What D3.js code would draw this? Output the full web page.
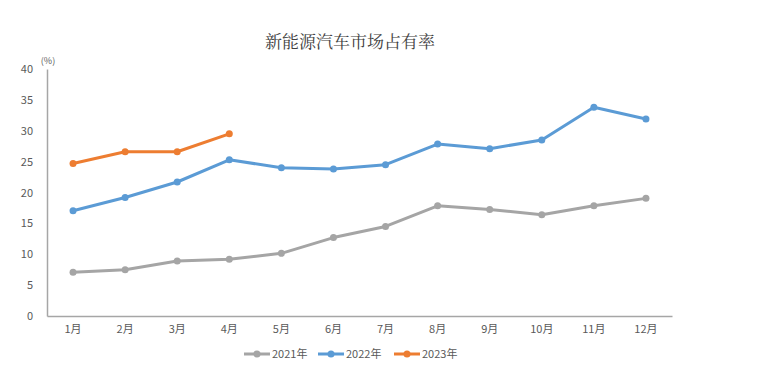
<!DOCTYPE html>
<html><head><meta charset="utf-8">
<script src="https://cdn.jsdelivr.net/npm/d3@7"></script>
<style>body{margin:0;background:#fff;}svg{display:block;}</style>
</head><body>
<script>
const months = ["1月","2月","3月","4月","5月","6月","7月","8月","9月","10月","11月","12月"];
const s2021 = [7.1, 7.5, 8.9, 9.2, 10.15, 12.7, 14.5, 17.85, 17.25, 16.4, 17.85, 19.05];
const s2022 = [17.05, 19.2, 21.7, 25.3, 24.0, 23.8, 24.5, 27.85, 27.1, 28.5, 33.8, 31.9];
const s2023 = [24.7, 26.6, 26.6, 29.5];
const seriesNames = ["2021年","2022年","2023年"];
const colors = ["#A5A5A5","#5B9BD5","#ED7D31"];
const yTicks = [0,5,10,15,20,25,30,35,40];
const title = "新能源汽车市场占有率";
const unitLabel = "(%)";

const W = 760, H = 372;
const svg = d3.select("body").append("svg").attr("width", W).attr("height", H);
const mLeft = 47, mRight = 672, mTop = 69, mBottom = 316;
const x = d3.scaleBand().domain(months).range([mLeft, mRight]);
const y = d3.scaleLinear().domain([0, 40]).range([mBottom, mTop]);
const font = "'Noto Sans CJK SC', 'Liberation Sans', sans-serif";

svg.append("text").attr("x", 350).attr("y", 48).attr("text-anchor","middle")
  .attr("font-family", "'Noto Serif CJK SC','Noto Sans CJK SC', serif").attr("font-size", 17).attr("fill","#404040").text(title);

// axes
const yAxis = svg.append("g").attr("transform", `translate(${mLeft},0)`)
  .call(d3.axisLeft(y).tickValues(yTicks).tickSize(0).tickPadding(14));
yAxis.select(".domain").attr("stroke","#A6A6A6").attr("stroke-width",1.5);
yAxis.selectAll("text").attr("font-family", font).attr("font-size", 11).attr("fill","#595959");

const xAxis = svg.append("g").attr("transform", `translate(0,${mBottom})`)
  .call(d3.axisBottom(x).tickSize(0).tickPadding(9));
xAxis.select(".domain").attr("stroke","#A6A6A6").attr("stroke-width",1.5);
xAxis.selectAll("text").attr("font-family", font).attr("font-size", 11).attr("fill","#595959");

svg.append("text").attr("x", 48).attr("y", 64).attr("text-anchor","middle")
  .attr("font-family", font).attr("font-size", 9).attr("fill","#595959").text(unitLabel);

const allSeries = [s2021, s2022, s2023];
const line = d3.line().x((d,i)=>x(months[i]) + x.bandwidth()/2).y(d=>y(d));
allSeries.forEach((s, k) => {
  svg.append("path").datum(s).attr("d", line).attr("fill","none")
    .attr("stroke", colors[k]).attr("stroke-width", 3).attr("stroke-linejoin","round");
  svg.selectAll(null).data(s).enter().append("circle")
    .attr("cx", (d,i)=>x(months[i]) + x.bandwidth()/2).attr("cy", d=>y(d))
    .attr("r", 3.5).attr("fill", colors[k]);
});

// legend
const legX = [244, 318, 394];
const leg = svg.append("g");
seriesNames.forEach((n, k) => {
  const g = leg.append("g").attr("transform", `translate(${legX[k]},354)`);
  g.append("line").attr("x1",0).attr("x2",26).attr("y1",0).attr("y2",0).attr("stroke",colors[k]).attr("stroke-width",3);
  g.append("circle").attr("cx",13).attr("cy",0).attr("r",3.5).attr("fill",colors[k]);
  g.append("text").attr("x",28).attr("y",4).attr("font-family",font).attr("font-size",11).attr("fill","#595959").text(n);
});
</script>
</body></html>
